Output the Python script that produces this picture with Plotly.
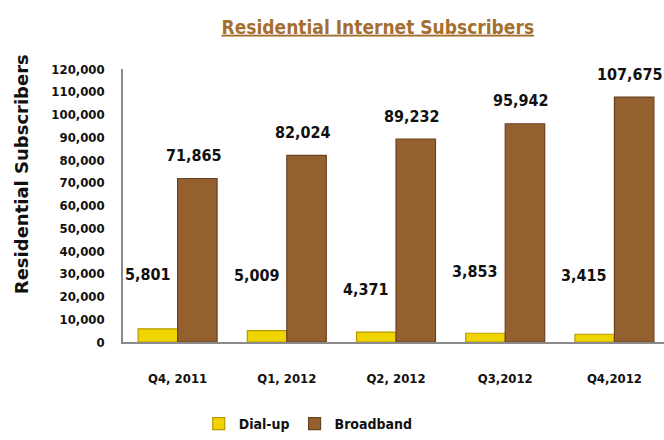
import plotly.graph_objects as go

categories = ["Q4, 2011", "Q1, 2012", "Q2, 2012", "Q3,2012", "Q4,2012"]
dialup = [5801, 5009, 4371, 3853, 3415]
broadband = [71865, 82024, 89232, 95942, 107675]
dialup_label_y = [29600, 29100, 23000, 30900, 29100]
y_ticks = list(range(0, 120001, 10000))

FONT = "DejaVu Sans Condensed, DejaVu Sans, sans-serif"

fig = go.Figure()
fig.add_trace(go.Bar(
    name="Dial-up", x=categories, y=dialup,
    marker=dict(color="#f0d400", line=dict(color="#b89a00", width=1.2)),
))
fig.add_trace(go.Bar(
    name="Broadband", x=categories, y=broadband,
    marker=dict(color="#94602f", line=dict(color="#6a4220", width=1.2)),
))

for c, v, ly in zip(categories, dialup, dialup_label_y):
    fig.add_annotation(x=c, y=ly, text=f"<b>{v:,}</b>", showarrow=False, xshift=-30,
                       font=dict(family=FONT, size=16, color="#111111"))
for c, v in zip(categories, broadband):
    fig.add_annotation(x=c, y=v, text=f"<b>{v:,}</b>", showarrow=False, xshift=16,
                       yshift=23, font=dict(family=FONT, size=16, color="#111111"))

fig.add_annotation(text="<b>Residential Subscribers</b>", xref="paper", yref="paper",
                   x=-0.187, y=0.614, xanchor="center", yanchor="middle",
                   showarrow=False, textangle=-90,
                   font=dict(family="DejaVu Sans", size=18, color="#111111"))

fig.update_layout(
    width=664, height=440,
    margin=dict(l=123, r=0, t=69, b=94),
    paper_bgcolor="white", plot_bgcolor="white",
    barmode="group", bargap=0.277, bargroupgap=0.0,
    title=dict(text="<u><b>Residential Internet Subscribers</b></u>", x=0.569,
               xanchor="center", y=0.9386, yanchor="middle",
               font=dict(family=FONT, size=19, color="#a5702f")),
    font=dict(family=FONT, size=13, color="#111111"),
    showlegend=True,
    legend=dict(orientation="h", x=0.14, xanchor="left", y=-0.243, yanchor="top",
                font=dict(family=FONT, size=14, color="#111111", weight="bold"),
                itemwidth=30, traceorder="normal"),
    xaxis=dict(range=[-0.5, 4.454], showline=True, linecolor="#8a8a8a", linewidth=1.5,
               ticks="", tickfont=dict(family=FONT, size=13, color="#111111", weight="bold"),
               ticklabelstandoff=24),
    yaxis=dict(range=[0, 120000], tickvals=y_ticks, tickformat=",d", showgrid=False,
               zeroline=False, showline=True, linecolor="#8a8a8a", linewidth=1.5, ticks="",
               tickfont=dict(family=FONT, size=13, color="#111111", weight="bold"),
               ticklabelstandoff=14),
)

fig.write_html("out.html", config={"displayModeBar": False},
               post_script="document.body.style.margin='0px';")
